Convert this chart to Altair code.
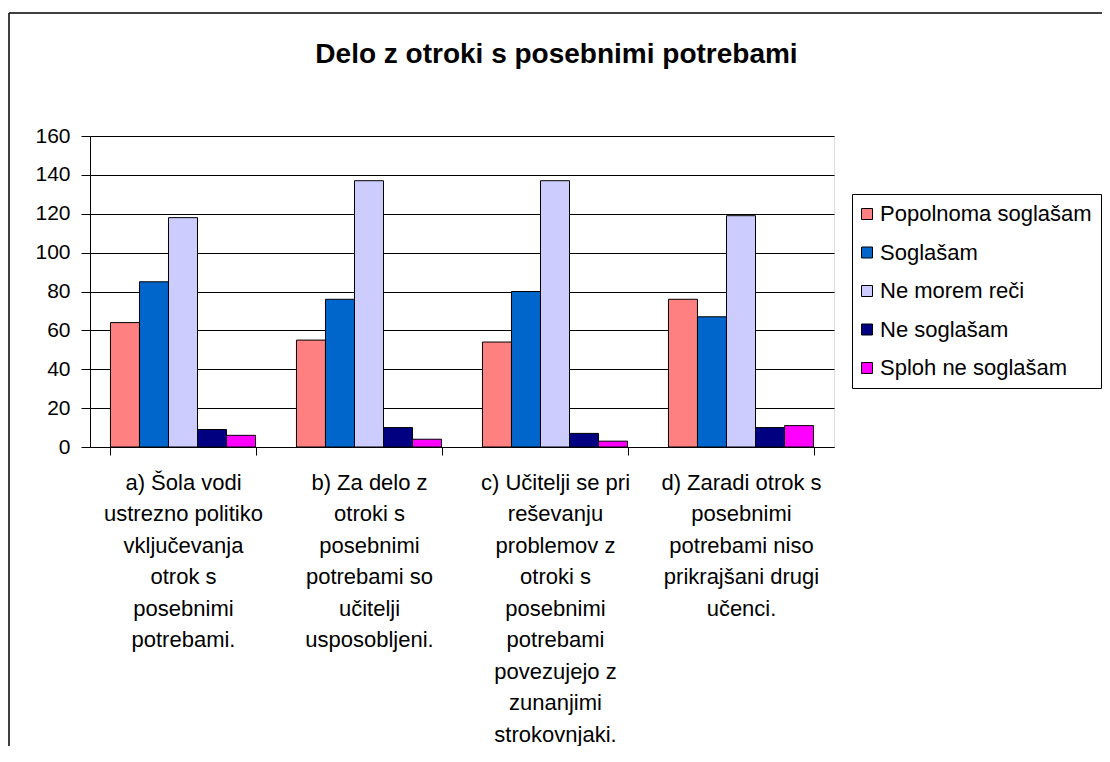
import altair as alt
import pandas as pd

FONT = "Liberation Sans, Arial, sans-serif"

title_text = "Delo z otroki s posebnimi potrebami"

categories = [
    "a) Šola vodi|ustrezno politiko|vključevanja|otrok s|posebnimi|potrebami.",
    "b) Za delo z|otroki s|posebnimi|potrebami so|učitelji|usposobljeni.",
    "c) Učitelji se pri|reševanju|problemov z|otroki s|posebnimi|potrebami|povezujejo z|zunanjimi|strokovnjaki.",
    "d) Zaradi otrok s|posebnimi|potrebami niso|prikrajšani drugi|učenci.",
]
series = ["Popolnoma soglašam", "Soglašam", "Ne morem reči", "Ne soglašam", "Sploh ne soglašam"]
popolnoma_soglasam = [64, 55, 54, 76]
soglasam = [85, 76, 80, 67]
ne_morem_reci = [118, 137, 137, 119]
ne_soglasam = [9, 10, 7, 10]
sploh_ne_soglasam = [6, 4, 3, 11]
colors = ["#FF8080", "#0066CC", "#CCCCFF", "#000080", "#FF00FF"]
y_ticks = [0, 20, 40, 60, 80, 100, 120, 140, 160]

values_by_series = [popolnoma_soglasam, soglasam, ne_morem_reci, ne_soglasam, sploh_ne_soglasam]
rows = []
for s, vals in zip(series, values_by_series):
    for c, v in zip(categories, vals):
        rows.append({"cat": c, "series": s, "value": v})
df = pd.DataFrame(rows)

bars = alt.Chart(df).mark_bar(stroke="black", strokeWidth=1).encode(
    x=alt.X(
        "cat:N",
        sort=categories,
        scale=alt.Scale(paddingInner=0.22, paddingOuter=0.11),
        axis=alt.Axis(
            title=None,
            labelAngle=0,
            tickBand="extent",
            tickSize=8,
            tickColor="black",
            domainColor="black",
            domainWidth=1,
            labelExpr="split(datum.label, '|')",
            labelLineHeight=31.5,
            labelFontSize=22,
            labelFont=FONT,
            labelColor="black",
            labelPadding=17,
            labelLimit=0,
            labelOverlap=False,
            labelBaseline="top",
            grid=False,
        ),
    ),
    xOffset=alt.XOffset("series:N", sort=series, scale=alt.Scale(paddingInner=0, paddingOuter=0)),
    y=alt.Y(
        "value:Q",
        scale=alt.Scale(domain=[0, 160], nice=False),
        axis=alt.Axis(
            title=None,
            values=y_ticks,
            grid=True,
            gridColor="black",
            gridWidth=1,
            gridOpacity=1,
            tickSize=9,
            tickColor="black",
            domainColor="black",
            labelFontSize=21,
            labelFont=FONT,
            labelColor="black",
            labelPadding=11,
        ),
    ),
    color=alt.Color(
        "series:N",
        sort=series,
        scale=alt.Scale(domain=series, range=colors),
        legend=alt.Legend(
            title=None,
            orient="none",
            legendX=762,
            legendY=58,
            symbolType="square",
            symbolSize=121,
            symbolStrokeColor="black",
            symbolStrokeWidth=1,
            symbolOpacity=1,
            symbolOffset=-5,
            labelFontSize=22,
            labelFont=FONT,
            labelColor="black",
            labelOffset=2,
            rowPadding=16.5,
            padding=9,
            strokeColor="black",
            fillColor="white",
            labelLimit=0,
        ),
    ),
)

title_data = alt.Data(values=[{"t": title_text}])
title_mark = alt.Chart(title_data).mark_text(
    font=FONT, fontSize=28, fontWeight="bold", color="black", align="center", baseline="alphabetic"
).encode(
    text="t:N", x=alt.value(466.5), y=alt.value(-73)
)

frame_data = alt.Data(values=[{"k": 1}])
top_border = alt.Chart(frame_data).mark_rule(color="black", strokeWidth=1.5).encode(
    x=alt.value(-81), x2=alt.value(1030), y=alt.value(-123)
)
left_border = alt.Chart(frame_data).mark_rule(color="black", strokeWidth=1.5).encode(
    x=alt.value(-81), y=alt.value(-123), y2=alt.value(630)
)

chart = alt.layer(bars, title_mark, top_border, left_border).properties(
    width=744,
    height=311,
    autosize=alt.AutoSizeParams(type="none"),
    padding={"left": 82, "top": 128, "right": 268, "bottom": 299},
).configure_view(
    fill="#C0C0C0", stroke="#808080", strokeWidth=1
).configure(background="white")

chart.save("out.html", embed_options={"renderer": "svg", "actions": False})
